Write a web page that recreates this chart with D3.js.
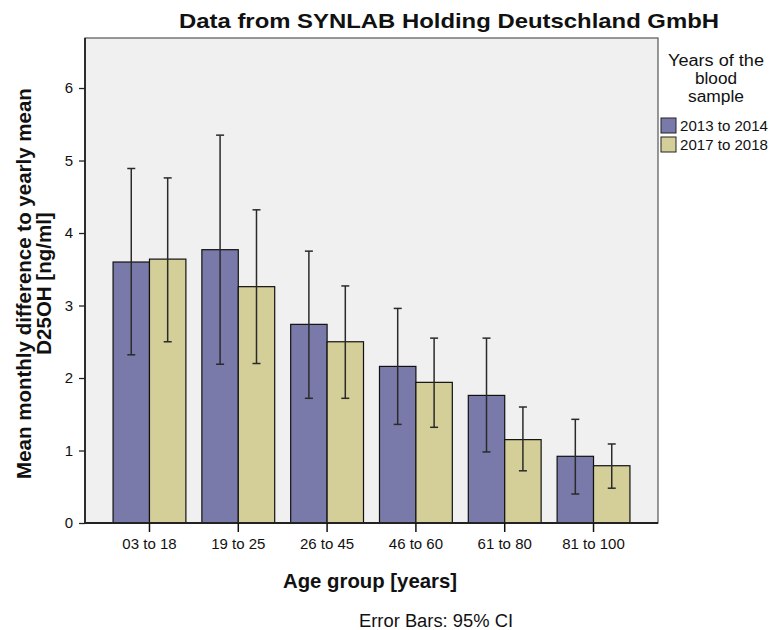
<!DOCTYPE html>
<html>
<head>
<meta charset="utf-8">
<script src="https://cdn.jsdelivr.net/npm/d3@7"></script>
<style>
  body { margin: 0; background: #fff; }
  svg { display: block; }
  text { font-family: "Liberation Sans", Arial, sans-serif; fill: #111; }
</style>
</head>
<body>
<svg id="chart" width="770" height="630"></svg>
<script>
// Age groups and the two sampling periods
const ageGroups = ["03 to 18", "19 to 25", "26 to 45", "46 to 60", "61 to 80", "81 to 100"];
const periods = ["2013 to 2014", "2017 to 2018"];

// Mean monthly difference to yearly mean (ng/ml), with 95% CI bounds
const mean1314 = [3.60, 3.77, 2.74, 2.16, 1.76, 0.92];
const lo1314   = [2.32, 2.19, 1.72, 1.36, 0.98, 0.40];
const hi1314   = [4.89, 5.35, 3.75, 2.96, 2.55, 1.43];
const mean1718 = [3.64, 3.26, 2.50, 1.94, 1.15, 0.79];
const lo1718   = [2.50, 2.20, 1.72, 1.32, 0.72, 0.48];
const hi1718   = [4.76, 4.32, 3.27, 2.55, 1.60, 1.09];

const yTicks = [0, 1, 2, 3, 4, 5, 6];

const colors = ["#7a7aaa", "#d4cf98"];

const svg = d3.select("#chart");
const plot = { left: 85, right: 658, top: 38, bottom: 523 };

const x = d3.scaleBand()
  .domain(ageGroups)
  .range([plot.left, plot.right])
  .paddingInner(0.18)
  .paddingOuter(0.316);

const xSub = d3.scaleBand()
  .domain(periods)
  .range([0, x.bandwidth()]);

const y = d3.scaleLinear()
  .domain([0, 6.69])
  .range([plot.bottom, plot.top]);

// Plot background and frame
svg.append("rect")
  .attr("x", plot.left).attr("y", plot.top)
  .attr("width", plot.right - plot.left)
  .attr("height", plot.bottom - plot.top)
  .attr("fill", "#f0f0f0")
  .attr("stroke", "#555")
  .attr("stroke-width", 1.2);

// One row per age group and period
const rows = [];
ageGroups.forEach((g, i) => {
  rows.push({ g, p: periods[0], mean: mean1314[i], lo: lo1314[i], hi: hi1314[i] });
  rows.push({ g, p: periods[1], mean: mean1718[i], lo: lo1718[i], hi: hi1718[i] });
});

// Bars
svg.append("g").selectAll("rect")
  .data(rows)
  .join("rect")
  .attr("x", d => x(d.g) + xSub(d.p))
  .attr("y", d => y(d.mean))
  .attr("width", xSub.bandwidth())
  .attr("height", d => y(0) - y(d.mean))
  .attr("fill", d => colors[periods.indexOf(d.p)])
  .attr("stroke", "#111")
  .attr("stroke-width", 1.2);

// Error bars (95% CI)
const eb = svg.append("g").attr("stroke", "#2a2a2a").attr("stroke-width", 1.5);
rows.forEach(d => {
  const cx = x(d.g) + xSub(d.p) + xSub.bandwidth() / 2;
  eb.append("line").attr("x1", cx).attr("x2", cx).attr("y1", y(d.lo)).attr("y2", y(d.hi));
  eb.append("line").attr("x1", cx - 4).attr("x2", cx + 4).attr("y1", y(d.hi)).attr("y2", y(d.hi));
  eb.append("line").attr("x1", cx - 4).attr("x2", cx + 4).attr("y1", y(d.lo)).attr("y2", y(d.lo));
});

// Y axis
const yAxis = svg.append("g")
  .attr("transform", `translate(${plot.left},0)`)
  .call(d3.axisLeft(y).tickValues(yTicks).tickSize(6).tickSizeOuter(0).tickFormat(d3.format("d")));
yAxis.select(".domain").attr("stroke", "#222").attr("stroke-width", 1.8)
  .attr("d", `M0,${plot.bottom}V${plot.top}`);
yAxis.selectAll(".tick line").attr("stroke", "#222").attr("stroke-width", 1.3);
yAxis.selectAll(".tick text")
  .attr("x", -12)
  .style("font-family", "'Liberation Sans', Arial, sans-serif")
  .style("font-size", "15px").attr("fill", "#111");

// X axis
const xAxis = svg.append("g")
  .attr("transform", `translate(0,${plot.bottom})`)
  .call(d3.axisBottom(x).tickSize(9).tickSizeOuter(0));
xAxis.select(".domain").attr("stroke", "#222").attr("stroke-width", 1.8)
  .attr("d", `M${plot.left},0H${plot.right}`);
xAxis.selectAll(".tick line").attr("stroke", "#111").attr("stroke-width", 1.5);
xAxis.selectAll(".tick text")
  .attr("y", 15)
  .style("font-family", "'Liberation Sans', Arial, sans-serif")
  .style("font-size", "15px").attr("fill", "#111");

// Title
svg.append("text")
  .attr("x", 449).attr("y", 28)
  .attr("text-anchor", "middle")
  .attr("textLength", 540).attr("lengthAdjust", "spacingAndGlyphs")
  .style("font-size", "21px").style("font-weight", "bold")
  .text("Data from SYNLAB Holding Deutschland GmbH");

// Axis titles
svg.append("text")
  .attr("x", 370).attr("y", 588)
  .attr("text-anchor", "middle")
  .attr("textLength", 174).attr("lengthAdjust", "spacingAndGlyphs")
  .style("font-size", "21px").style("font-weight", "bold")
  .text("Age group [years]");

const yTitle = svg.append("text")
  .attr("transform", `translate(0,${(plot.top + plot.bottom) / 2 + 3}) rotate(-90)`)
  .attr("text-anchor", "middle")
  .style("font-size", "20.5px").style("font-weight", "bold");
yTitle.append("tspan").attr("x", 0).attr("y", 31).text("Mean monthly difference to yearly mean");
yTitle.append("tspan").attr("x", 0).attr("y", 51).text("D25OH [ng/ml]");

// Footnote
svg.append("text")
  .attr("x", 436).attr("y", 627)
  .attr("text-anchor", "middle")
  .attr("textLength", 154).attr("lengthAdjust", "spacingAndGlyphs")
  .style("font-size", "18px")
  .text("Error Bars: 95% CI");

// Legend
const legTitle = ["Years of the", "blood", "sample"];
const legWidths = [96, 42, 56];
svg.append("g").selectAll("text")
  .data(legTitle)
  .join("text")
  .attr("x", 716)
  .attr("y", (d, i) => 66 + i * 18)
  .attr("text-anchor", "middle")
  .attr("textLength", (d, i) => legWidths[i]).attr("lengthAdjust", "spacingAndGlyphs")
  .style("font-size", "16px")
  .text(d => d);

const leg = svg.append("g").selectAll("g")
  .data(periods)
  .join("g")
  .attr("transform", (d, i) => `translate(661,${118 + i * 19})`);
leg.append("rect")
  .attr("width", 15).attr("height", 15)
  .attr("fill", (d, i) => colors[i])
  .attr("stroke", "#222").attr("stroke-width", 1);
leg.append("text")
  .attr("x", 19).attr("y", 13)
  .attr("textLength", 88).attr("lengthAdjust", "spacingAndGlyphs")
  .style("font-size", "15px")
  .text(d => d);
</script>
</body>
</html>
